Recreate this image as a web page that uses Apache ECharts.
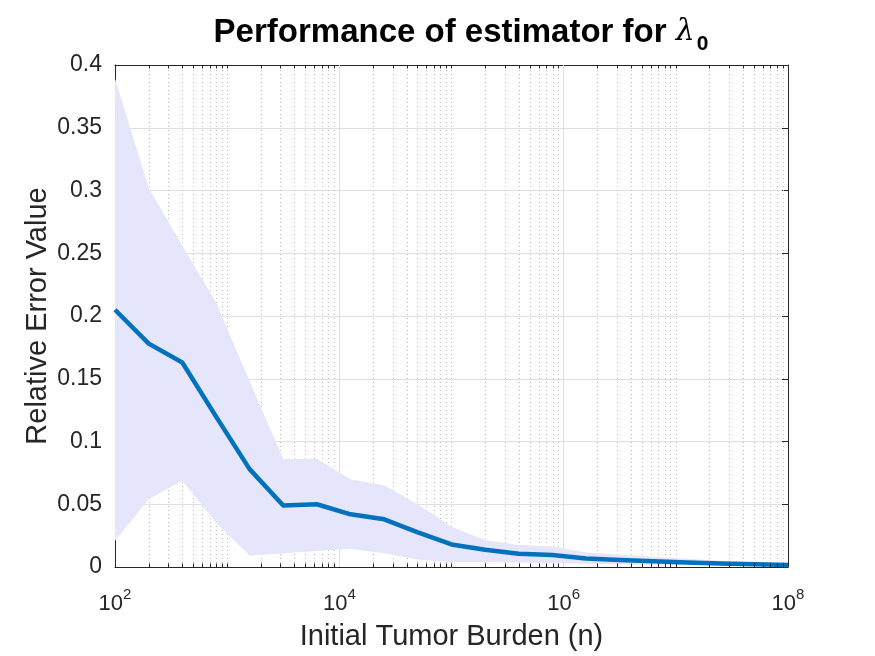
<!DOCTYPE html>
<html>
<head>
<meta charset="utf-8">
<script src="https://cdn.jsdelivr.net/npm/echarts@6/dist/echarts.min.js"></script>
<style>
  html, body { margin: 0; padding: 0; background: #fff; }
  #chart { width: 875px; height: 656px; }
</style>
</head>
<body>
<div id="chart"></div>
<script>
// initial tumor burden n (logspace 1e2..1e8, 21 points)
const burden = [100, 200, 398, 794, 1585, 3162, 6310, 12589, 25119, 50119, 100000,
  199526, 398107, 794328, 1584893, 3162278, 6309573, 12589254, 25118864, 50118723, 100000000];
// mean relative error
const meanError = [0.205, 0.178, 0.163, 0.120, 0.078, 0.049, 0.050, 0.042, 0.038, 0.0276, 0.018,
  0.0138, 0.0105, 0.0095, 0.0068, 0.0055, 0.0045, 0.0035, 0.0027, 0.0021, 0.0016];
// shaded band edges
const upperBand = [0.389, 0.302, 0.256, 0.211, 0.148, 0.086, 0.086, 0.070, 0.065, 0.050, 0.032,
  0.0215, 0.0175, 0.0165, 0.0115, 0.0097, 0.0082, 0.0065, 0.005, 0.0038, 0.003];
const lowerBand = [0.021, 0.054, 0.069, 0.0355, 0.009, 0.011, 0.0127, 0.0145, 0.011, 0.006, 0.004,
  0.004, 0.0035, 0.003, 0.0025, 0.002, 0.0018, 0.0015, 0.0012, 0.001, 0.0008];
// axis ticks
const xTickValues = [1e2, 1e4, 1e6, 1e8];
const yTickStep = 0.05;

const textColor = '#262626';
const font = '"Liberation Sans", Arial, Helvetica, sans-serif';
const bandColor = '#e5e5fb';
const lineColor = '#0072bd';

// minor grid positions: 2..9 x 10^k and the odd decades
const minorGrid = [];
for (let k = 2; k < 8; k++) {
  for (let m = 1; m <= 9; m++) {
    if (m === 1 && k % 2 === 0) continue;
    minorGrid.push(m * Math.pow(10, k));
  }
}
const minorTick = 0.0028;

const gridLines = [];
minorGrid.forEach(v => gridLines.push({ xAxis: v, lineStyle: { color: '#bdbdbd', width: 1, type: [1, 3] } }));
[1e4, 1e6].forEach(v => gridLines.push({ xAxis: v, lineStyle: { color: '#dfdfdf', width: 1, type: 'solid' } }));

const tickLines = [];
minorGrid.forEach(v => {
  tickLines.push([{ coord: [v, 0] }, { coord: [v, minorTick] }]);
  tickLines.push([{ coord: [v, 0.4] }, { coord: [v, 0.4 - minorTick] }]);
});

const chart = echarts.init(document.getElementById('chart'));

const xLabelRich = {
  b: { fontFamily: font, fontSize: 22, color: textColor, padding: [8, 0, 0, 0], lineHeight: 26 },
  e: { fontFamily: font, fontSize: 15, color: textColor, verticalAlign: 'top', lineHeight: 16 }
};

chart.setOption({
  animation: false,
  title: {
    text: '{a|Performance of estimator for }{l|λ}{s|0}',
    left: 456,
    top: 5,
    textAlign: 'center',
    textStyle: {
      rich: {
        a: { fontFamily: font, fontSize: 33, fontWeight: 'bold', color: '#000' },
        l: { fontFamily: '"DejaVu Serif", serif', fontStyle: 'italic', fontWeight: 'normal', fontSize: 30, color: '#000' },
        s: { fontFamily: font, fontSize: 21, fontWeight: 'bold', color: '#000', padding: [24, 0, 0, 2] }
      }
    }
  },
  grid: { left: 115, right: 87, top: 65, bottom: 88 },
  xAxis: [{
    type: 'log',
    logBase: 10,
    min: 100,
    max: 1e8,
    name: 'Initial Tumor Burden (n)',
    nameLocation: 'middle',
    nameGap: 55,
    nameTextStyle: { fontFamily: font, fontSize: 29, color: textColor },
    axisLine: { show: true, onZero: false, lineStyle: { color: textColor, width: 1 } },
    axisTick: { inside: true, length: 6, customValues: xTickValues, lineStyle: { color: textColor } },
    axisLabel: {
      customValues: xTickValues,
      margin: 20,
      formatter: v => '{b|10}{e|' + Math.round(Math.log10(v)) + '}',
      rich: xLabelRich
    },
    splitLine: { show: false }
  }, {
    type: 'log',
    logBase: 10,
    min: 100,
    max: 1e8,
    position: 'top',
    axisLine: { show: true, onZero: false, lineStyle: { color: textColor, width: 1 } },
    axisTick: { inside: true, length: 6, customValues: xTickValues, lineStyle: { color: textColor } },
    axisLabel: { show: false },
    splitLine: { show: false }
  }],
  yAxis: [{
    type: 'value',
    min: 0,
    max: 0.4,
    interval: yTickStep,
    name: 'Relative Error Value',
    nameLocation: 'middle',
    nameGap: 63,
    nameMoveOverlap: false,
    nameTextStyle: { fontFamily: font, fontSize: 29, color: textColor },
    axisLine: { show: true, lineStyle: { color: textColor, width: 1 } },
    axisTick: { show: true, inside: true, length: 6, lineStyle: { color: textColor } },
    axisLabel: {
      margin: 13,
      fontFamily: font,
      fontSize: 23,
      color: textColor,
      formatter: v => String(+v.toFixed(2))
    },
    splitLine: { show: true, lineStyle: { color: '#dfdfdf', width: 1 } }
  }, {
    type: 'value',
    min: 0,
    max: 0.4,
    interval: yTickStep,
    position: 'right',
    axisLine: { show: true, lineStyle: { color: textColor, width: 1 } },
    axisTick: { show: true, inside: true, length: 6, lineStyle: { color: textColor } },
    axisLabel: { show: false },
    splitLine: { show: false }
  }],
  series: [{
    // x grid lines (drawn below the band)
    type: 'line',
    z: 1,
    silent: true,
    symbol: 'none',
    data: [[burden[0], meanError[0]]],
    lineStyle: { opacity: 0 },
    markLine: { z: 1, silent: true, symbol: 'none', label: { show: false }, animation: false, data: gridLines }
  }, {
    // shaded band between lower and upper edges
    name: 'band',
    type: 'custom',
    z: 2,
    silent: true,
    data: burden.map((n, i) => [n, lowerBand[i], upperBand[i]]),
    encode: { x: 0, y: [1, 2] },
    renderItem: (params, api) => {
      if (params.dataIndex !== 0) return;
      const pts = [];
      for (let i = 0; i < burden.length; i++) pts.push(api.coord([burden[i], upperBand[i]]));
      for (let i = burden.length - 1; i >= 0; i--) pts.push(api.coord([burden[i], lowerBand[i]]));
      return { type: 'polygon', shape: { points: pts }, style: { fill: bandColor } };
    }
  }, {
    name: 'mean',
    type: 'line',
    z: 3,
    symbol: 'none',
    data: burden.map((n, i) => [n, meanError[i]]),
    lineStyle: { color: lineColor, width: 4.5, join: 'round' }
  }, {
    // minor ticks on bottom and top edges
    type: 'line',
    z: 5,
    silent: true,
    symbol: 'none',
    data: [[burden[0], meanError[0]]],
    lineStyle: { opacity: 0 },
    markLine: {
      z: 6, silent: true, symbol: 'none', label: { show: false }, animation: false,
      lineStyle: { color: textColor, width: 1, type: 'solid' },
      data: tickLines
    }
  }]
});
</script>
</body>
</html>
